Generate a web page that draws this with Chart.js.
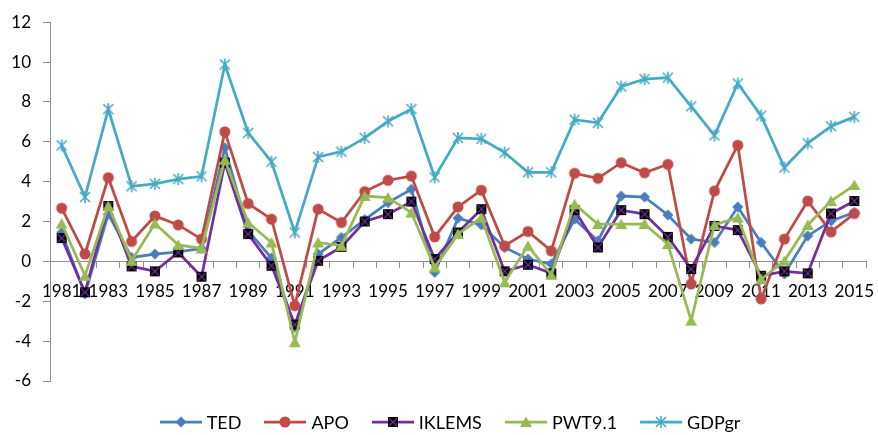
<!DOCTYPE html>
<html>
<head>
<meta charset="utf-8">
<script src="https://cdn.jsdelivr.net/npm/chart.js@4/dist/chart.umd.min.js"></script>
<style>
  html, body { margin: 0; padding: 0; background: #fff; overflow: hidden; }
  #wrap { position: relative; width: 878px; height: 435px; }
  #legend {
    position: absolute; left: 0; top: 411px; width: 878px; box-sizing: border-box;
    padding-left: 22px; display: flex; justify-content: center; align-items: center;
    font-family: Lato, "Open Sans", sans-serif; font-size: 18px; color: #000; line-height: 22px;
  }
  .item { display: flex; align-items: center; margin: 0 11.5px; }
  .item canvas { display: block; margin-right: 5px; }
</style>
</head>
<body>
<div id="wrap">
  <canvas id="chart" width="878" height="435"></canvas>
  <div id="legend"></div>
</div>
<script>
// Categories: years on the x axis
const years = ['1981','1982','1983','1984','1985','1986','1987','1988','1989','1990',
  '1991','1992','1993','1994','1995','1996','1997','1998','1999','2000',
  '2001','2002','2003','2004','2005','2006','2007','2008','2009','2010',
  '2011','2012','2013','2014','2015'];

// Series values (%)
const ted = [1.45, -1.63, 2.37, 0.2, 0.37, 0.48, 0.65, 5.7, 1.53, 0.17,
  -3.3, 0.37, 1.2, 2.1, 2.95, 3.62, -0.55, 2.17, 1.83, 0.7,
  0.12, -0.13, 2.12, 1.03, 3.28, 3.23, 2.33, 1.12, 0.95, 2.73,
  0.95, -0.63, 1.28, 2.03, 2.45];
const apo = [2.67, 0.37, 4.2, 1.0, 2.28, 1.83, 1.12, 6.5, 2.9, 2.12,
  -2.22, 2.62, 1.95, 3.5, 4.07, 4.28, 1.23, 2.73, 3.57, 0.78,
  1.5, 0.53, 4.42, 4.17, 4.95, 4.45, 4.87, -1.13, 3.53, 5.83,
  -1.88, 1.12, 3.03, 1.48, 2.4];
const iklems = [1.17, -1.55, 2.78, -0.25, -0.5, 0.45, -0.77, 4.95, 1.37, -0.22,
  -3.17, 0.03, 0.73, 2.0, 2.37, 3.0, 0.12, 1.45, 2.62, -0.5,
  -0.17, -0.6, 2.57, 0.7, 2.57, 2.37, 1.23, -0.38, 1.78, 1.57,
  -0.72, -0.5, -0.6, 2.4, 3.03];
const pwt = [1.9, -0.72, 2.78, 0.03, 1.9, 0.83, 0.65, 5.1, 1.95, 0.95,
  -4.05, 0.95, 0.78, 3.28, 3.2, 2.45, -0.3, 1.37, 2.2, -1.05,
  0.78, -0.67, 2.87, 1.87, 1.87, 1.87, 0.87, -2.97, 1.83, 2.2,
  -0.9, 0.03, 1.83, 3.03, 3.83];
const gdpgr = [5.82, 3.23, 7.64, 3.77, 3.89, 4.13, 4.27, 9.88, 6.45, 5.0,
  1.45, 5.24, 5.51, 6.2, 7.03, 7.64, 4.22, 6.2, 6.15, 5.46,
  4.47, 4.47, 7.11, 6.95, 8.77, 9.15, 9.22, 7.78, 6.32, 8.93,
  7.31, 4.71, 5.92, 6.78, 7.25];

// Y axis range and step
const yMin = -6, yMax = 12, yStep = 2;

const seriesNames = ['TED', 'APO', 'IKLEMS', 'PWT9.1', 'GDPgr'];
const seriesData = [ted, apo, iklems, pwt, gdpgr];
const seriesColors = ['#4A7EBB', '#BE4B48', '#7030A0', '#98B954', '#46AAC5'];
const markerKinds = ['diamond', 'circle', 'boxX', 'triangle', 'asterisk'];

const axisGray = '#8E8E8E';
const axisFont = { family: 'Lato, "Open Sans", sans-serif', size: 17 };

// Draws one marker centred at (cx, cy)
function drawMarker(g, kind, color, cx, cy) {
  g.save();
  g.fillStyle = color;
  g.strokeStyle = color;
  if (kind === 'diamond') {
    g.beginPath();
    g.moveTo(cx, cy - 5.5); g.lineTo(cx + 5.5, cy); g.lineTo(cx, cy + 5.5); g.lineTo(cx - 5.5, cy);
    g.closePath(); g.fill();
  } else if (kind === 'circle') {
    g.beginPath(); g.arc(cx, cy, 5.5, 0, Math.PI * 2); g.fill();
  } else if (kind === 'triangle') {
    g.beginPath();
    g.moveTo(cx, cy - 5.5); g.lineTo(cx + 6, cy + 5); g.lineTo(cx - 6, cy + 5);
    g.closePath(); g.fill();
  } else if (kind === 'boxX') {
    g.fillStyle = '#000';
    g.fillRect(cx - 5, cy - 5, 10, 10);
    g.lineWidth = 1.2;
    g.beginPath();
    g.moveTo(cx - 4, cy - 4); g.lineTo(cx + 4, cy + 4);
    g.moveTo(cx + 4, cy - 4); g.lineTo(cx - 4, cy + 4);
    g.stroke();
  } else if (kind === 'asterisk') {
    g.lineWidth = 1.6;
    g.beginPath();
    g.moveTo(cx - 5, cy - 5); g.lineTo(cx + 5, cy + 5);
    g.moveTo(cx + 5, cy - 5); g.lineTo(cx - 5, cy + 5);
    g.moveTo(cx, cy - 6); g.lineTo(cx, cy + 6);
    g.stroke();
  }
  g.restore();
}

function markerImage(kind, color) {
  const c = document.createElement('canvas');
  c.width = 16; c.height = 16;
  drawMarker(c.getContext('2d'), kind, color, 8, 8);
  return c;
}

function legendSample(kind, color) {
  const c = document.createElement('canvas');
  c.width = 42; c.height = 16;
  const g = c.getContext('2d');
  g.strokeStyle = color; g.lineWidth = 2.75;
  g.beginPath(); g.moveTo(0, 8); g.lineTo(42, 8); g.stroke();
  drawMarker(g, kind, color, 21, 8);
  return c;
}

const datasets = seriesNames.map((name, i) => ({
  label: name,
  data: seriesData[i],
  borderColor: seriesColors[i],
  backgroundColor: seriesColors[i],
  borderWidth: 2.75,
  tension: 0,
  fill: false,
  pointStyle: markerImage(markerKinds[i], seriesColors[i]),
  pointRadius: 6,
  pointHoverRadius: 6,
  order: seriesNames.length - 1 - i
}));

// Legend below the plot
const legendEl = document.getElementById('legend');
seriesNames.forEach((name, i) => {
  const item = document.createElement('div');
  item.className = 'item';
  item.appendChild(legendSample(markerKinds[i], seriesColors[i]));
  const span = document.createElement('span');
  span.textContent = name;
  item.appendChild(span);
  legendEl.appendChild(item);
});

function build() {
  new Chart(document.getElementById('chart'), {
    type: 'line',
    data: { labels: years, datasets },
    options: {
      responsive: false,
      animation: false,
      events: [],
      layout: { padding: { left: 0, right: 12, top: 19, bottom: 54 } },
      plugins: { legend: { display: false }, tooltip: { enabled: false } },
      scales: {
        x: {
          type: 'category',
          position: { y: 0 },
          offset: true,
          grid: { display: true, drawOnChartArea: false, drawTicks: true, tickLength: 6, offset: true, color: axisGray },
          border: { display: true, color: axisGray, width: 1 },
          ticks: {
            autoSkip: false, maxRotation: 0, minRotation: 0, padding: 14,
            color: '#000', font: axisFont,
            callback: (v, i) => (i % 2 === 0 ? years[i] : '')
          },
          // year labels may overhang the plot edges
          afterFit: s => { s.paddingLeft = 0; s.paddingRight = 0; }
        },
        y: {
          min: yMin, max: yMax,
          grid: { display: true, drawOnChartArea: false, tickLength: 7, color: axisGray },
          border: { display: true, color: axisGray, width: 1 },
          ticks: { stepSize: yStep, padding: 12, color: '#000', font: axisFont },
          afterFit: s => { s.width = 50; }
        }
      }
    }
  });
}

if (document.fonts && document.fonts.load) {
  document.fonts.load('17px Lato').then(build, build);
} else {
  build();
}
</script>
</body>
</html>
